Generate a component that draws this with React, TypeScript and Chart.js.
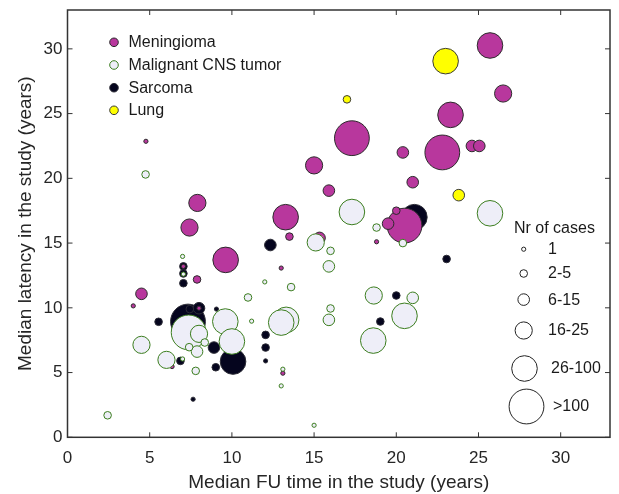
import React, { useEffect, useRef } from 'react';
import { Chart, registerables } from 'chart.js';

Chart.register(...registerables);

// ---------- data ----------
const CASE_CLASSES = ['1', '2-5', '6-15', '16-25', '26-100', '>100'];
const X_TICKS = [0, 5, 10, 15, 20, 25, 30];
const Y_TICKS = [0, 5, 10, 15, 20, 25, 30];
const X_TITLE = 'Median FU time in the study (years)';
const Y_TITLE = 'Median latency in the study (years)';
const SERIES_NAMES = ['Meningioma', 'Malignant CNS tumor', 'Sarcoma', 'Lung'];
const SIZE_TITLE = 'Nr of cases';

// case class index refers to CASE_CLASSES
const meningiomaX = [25.7, 26.5, 23.3, 17.3, 22.8, 24.6, 25.05, 20.4, 15.0, 15.9, 21.0, 20.5, 20.0, 19.5, 18.8, 13.27, 13.5, 15.33, 13.0, 9.62, 7.9, 7.42, 4.77, 7.05, 7.88, 4.5, 4.0, 6.36, 8.0, 13.1];
const meningiomaY = [30.26, 26.55, 24.9, 23.1, 22.0, 22.5, 22.5, 22.0, 21.0, 19.05, 19.7, 16.35, 17.5, 16.5, 15.1, 17.0, 15.5, 15.4, 13.07, 13.7, 18.1, 16.2, 22.86, 13.2, 12.19, 11.08, 10.15, 5.46, 9.97, 4.95];
const meningiomaN = [4, 3, 4, 5, 5, 2, 2, 2, 3, 2, 2, 5, 1, 2, 0, 4, 1, 2, 0, 4, 3, 3, 0, 0, 1, 2, 0, 0, 0, 0];

const malignantX = [7.37, 25.7, 17.3, 13.3, 13.0, 20.5, 18.6, 9.6, 10.0, 15.1, 18.63, 4.5, 6.02, 8.0, 15.9, 15.9, 21.0, 7.88, 16.0, 18.8, 20.4, 4.75, 10.98, 13.6, 16.0, 2.44, 7.8, 8.35, 7.4, 7.0, 7.05, 11.2, 12.0, 13.1, 13.0, 15.0, 7.0];
const malignantY = [8.1, 17.3, 17.4, 9.07, 8.86, 9.38, 7.47, 8.94, 7.4, 15.05, 10.95, 7.14, 5.98, 7.99, 13.2, 9.07, 10.77, 6.62, 14.4, 16.2, 15.0, 20.3, 10.8, 11.6, 9.95, 1.7, 5.13, 7.32, 6.96, 13.97, 12.6, 8.97, 12.0, 5.26, 3.97, 0.93, 6.05];
const malignantN = [5, 4, 4, 4, 4, 4, 4, 4, 4, 3, 3, 3, 3, 3, 2, 2, 2, 2, 1, 1, 1, 1, 1, 1, 1, 1, 1, 1, 1, 0, 0, 0, 0, 0, 0, 0, 0];

const sarcomaX = [7.33, 21.1, 10.07, 12.34, 8.0, 8.91, 23.06, 7.05, 7.05, 7.05, 5.54, 6.87, 7.44, 9.02, 12.05, 12.05, 20.0, 19.03, 7.64, 9.06, 12.05];
const sarcomaY = [8.94, 17.0, 5.85, 14.85, 9.97, 6.93, 13.77, 13.2, 12.65, 11.9, 8.92, 5.9, 9.9, 5.41, 7.91, 6.93, 10.95, 8.94, 2.94, 9.9, 5.9];
const sarcomaN = [5, 4, 4, 2, 2, 2, 1, 1, 1, 1, 1, 1, 1, 1, 1, 1, 1, 1, 0, 0, 0];

const lungX = [23.0, 17.0, 23.8];
const lungY = [29.05, 26.1, 18.7];
const lungN = [4, 1, 2];

// ---------- style ----------
const RADII = [2.1, 3.8, 5.8, 8.6, 12.8, 17.4];
const FONT = "'Liberation Sans', Arial, Helvetica, sans-serif";
const TEXT_COLOR = '#262626';
const AXIS_COLOR = '#333333';
const FILLS = ['#B8379D', '#EEEEF8', '#05051E', '#FFFF00'];
const BORDERS = ['#2b2b2b', '#3B7D1E', '#2b2b35', '#3a3a3a'];

const toPoints = (xs: number[], ys: number[], ns: number[]) =>
  xs.map((x, i) => ({ x, y: ys[i], r: RADII[ns[i]] }));

const overlayPlugin = {
  id: 'overlay',
  afterDraw(chart: any) {
    const { ctx, chartArea: a, scales } = chart;
    ctx.save();
    ctx.strokeStyle = AXIS_COLOR;
    ctx.lineWidth = 1;
    const seg = (x1: number, y1: number, x2: number, y2: number) => {
      ctx.beginPath();
      ctx.moveTo(x1, y1);
      ctx.lineTo(x2, y2);
      ctx.stroke();
    };
    X_TICKS.forEach((v) => {
      const x = scales.x.getPixelForValue(v);
      seg(x, a.bottom, x, a.bottom - 5);
      seg(x, a.top, x, a.top + 5);
    });
    Y_TICKS.forEach((v) => {
      const y = scales.y.getPixelForValue(v);
      seg(a.left, y, a.left + 5, y);
      seg(a.right, y, a.right - 5, y);
    });
    ctx.lineWidth = 1.5;
    ctx.strokeRect(a.left, a.top, a.right - a.left, a.bottom - a.top);

    // series legend
    const legY = [42.3, 65, 87.7, 110.3];
    ctx.font = `16px ${FONT}`;
    ctx.textBaseline = 'middle';
    ctx.textAlign = 'left';
    SERIES_NAMES.forEach((name, i) => {
      ctx.beginPath();
      ctx.arc(114, legY[i], 4.3, 0, Math.PI * 2);
      ctx.fillStyle = FILLS[i];
      ctx.fill();
      ctx.lineWidth = 1;
      ctx.strokeStyle = BORDERS[i];
      ctx.stroke();
      ctx.fillStyle = '#1a1a1a';
      ctx.fillText(name, 128.5, legY[i] + 0.5);
    });

    // size legend
    ctx.fillStyle = '#1a1a1a';
    ctx.fillText(SIZE_TITLE, 514, 229);
    const sy = [249.2, 273.5, 299.6, 330.5, 368.5, 406.5];
    const sx = [523.7, 523.7, 523.7, 523.7, 524.5, 526.5];
    const tx = [548, 548, 548, 548, 551, 553];
    CASE_CLASSES.forEach((lab, i) => {
      ctx.beginPath();
      ctx.arc(sx[i], sy[i], RADII[i], 0, Math.PI * 2);
      ctx.fillStyle = '#ffffff';
      ctx.fill();
      ctx.lineWidth = 1;
      ctx.strokeStyle = '#222222';
      ctx.stroke();
      ctx.fillStyle = '#1a1a1a';
      ctx.fillText(lab, tx[i], sy[i] + 0.5);
    });
    ctx.restore();
  },
};

export default function App() {
  const ref = useRef<HTMLCanvasElement | null>(null);
  useEffect(() => {
    document.body.style.margin = '0';
    const canvas = ref.current;
    if (!canvas) return;
    Chart.defaults.font.family = FONT;
    const datasets = [
      { label: SERIES_NAMES[0], data: toPoints(meningiomaX, meningiomaY, meningiomaN), order: 2 },
      { label: SERIES_NAMES[1], data: toPoints(malignantX, malignantY, malignantN), order: 1 },
      { label: SERIES_NAMES[2], data: toPoints(sarcomaX, sarcomaY, sarcomaN), order: 3 },
      { label: SERIES_NAMES[3], data: toPoints(lungX, lungY, lungN), order: 0 },
    ].map((d, i) => ({
      ...d,
      backgroundColor: FILLS[i],
      borderColor: BORDERS[i],
      borderWidth: 1,
      hoverRadius: 0,
    }));
    const zeroPad = (s: any) => {
      s.paddingTop = 0;
      s.paddingBottom = 0;
      s.paddingLeft = 0;
      s.paddingRight = 0;
    };
    const chart = new Chart(canvas, {
      type: 'bubble',
      data: { datasets },
      options: {
        animation: false,
        responsive: true,
        maintainAspectRatio: false,
        events: [],
        layout: { autoPadding: false, padding: { left: 0, right: 9, top: 10, bottom: 0 } },
        plugins: { legend: { display: false }, tooltip: { enabled: false } },
        scales: {
          x: {
            type: 'linear',
            min: 0,
            max: 33,
            afterBuildTicks: (s: any) => {
              s.ticks = X_TICKS.map((v) => ({ value: v }));
            },
            afterFit: (s: any) => {
              s.height = 56.7;
              zeroPad(s);
            },
            grid: { display: false, drawTicks: false },
            border: { display: false },
            ticks: { color: TEXT_COLOR, font: { size: 17 }, padding: 11, maxRotation: 0 },
            title: {
              display: true,
              text: X_TITLE,
              color: TEXT_COLOR,
              font: { size: 19 },
              padding: { top: 0, bottom: 0 },
            },
          },
          y: {
            type: 'linear',
            min: 0,
            max: 33,
            afterBuildTicks: (s: any) => {
              s.ticks = Y_TICKS.map((v) => ({ value: v }));
            },
            afterFit: (s: any) => {
              s.width = 67.5;
              zeroPad(s);
            },
            grid: { display: false, drawTicks: false },
            border: { display: false },
            ticks: { color: TEXT_COLOR, font: { size: 17 }, padding: 5 },
            title: {
              display: true,
              text: Y_TITLE,
              color: TEXT_COLOR,
              font: { size: 19 },
              padding: { top: 14, bottom: 0 },
            },
          },
        },
      },
      plugins: [overlayPlugin],
    } as any);
    return () => chart.destroy();
  }, []);
  return (
    <div style={{ width: 619, height: 494, position: 'relative' }}>
      <canvas ref={ref} />
    </div>
  );
}
